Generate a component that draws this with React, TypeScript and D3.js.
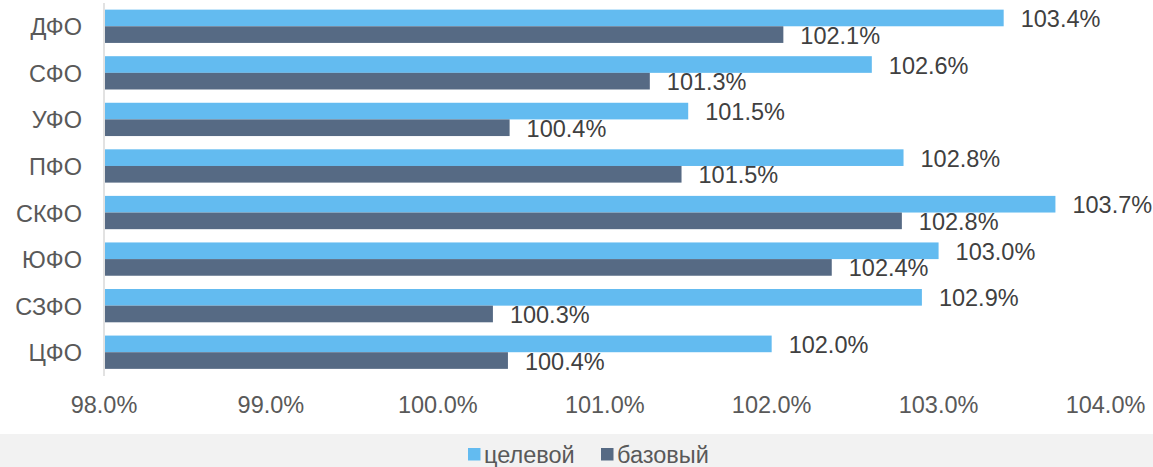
import React from "react";
import * as d3 from "d3";

const categories = ["ДФО", "СФО", "УФО", "ПФО", "СКФО", "ЮФО", "СЗФО", "ЦФО"];
const targetValues = [103.39, 102.6, 101.5, 102.79, 103.7, 103.0, 102.9, 102.0];
const baseValues = [102.07, 101.27, 100.43, 101.46, 102.78, 102.36, 100.33, 100.42];
const xTicks = [98, 99, 100, 101, 102, 103, 104];
const seriesNames = ["целевой", "базовый"];
const seriesColors = ["#63BBF0", "#566A84"];

const W = 1153;
const H = 467;
const FONT = "'Liberation Sans', Arial, sans-serif";

export default function App() {
  const x = d3.scaleLinear().domain([98, 104]).range([104, 1105.5]);
  const y = d3.scaleBand<string>().domain(categories).range([3, 375.5]).paddingInner(0.285).paddingOuter(0.1425);
  const bw = y.bandwidth() / 2;
  const fmt = (v: number) => v.toFixed(1) + "%";

  return (
    <svg width={W} height={H} style={{ position: "absolute", left: 0, top: 0 }} fontFamily={FONT}>
      <rect x={0} y={0} width={W} height={H} fill="#ffffff" />
      {categories.map((c, i) => {
        const y0 = y(c)!;
        return (
          <g key={c}>
            <rect x={x(98) + 1} y={y0} width={x(targetValues[i]) - x(98) - 1} height={bw} fill={seriesColors[0]} />
            <rect x={x(98) + 1} y={y0 + bw} width={x(baseValues[i]) - x(98) - 1} height={bw} fill={seriesColors[1]} />
            <text x={x(targetValues[i]) + 17} y={y0 + bw / 2 + 1} dominantBaseline="central" fontSize={23.5} fill="#404040">
              {fmt(targetValues[i])}
            </text>
            <text x={x(baseValues[i]) + 17} y={y0 + bw * 1.5 + 1} dominantBaseline="central" fontSize={23.5} fill="#404040">
              {fmt(baseValues[i])}
            </text>
            <text x={82} y={y0 + bw + 1} dominantBaseline="central" textAnchor="end" fontSize={23.5} fill="#595959">
              {c}
            </text>
          </g>
        );
      })}
      <line x1={x(98)} x2={x(98)} y1={3} y2={376} stroke="#d9d9d9" strokeWidth={1.5} />
      {xTicks.map((t) => (
        <text key={t} x={x(t)} y={413} textAnchor="middle" fontSize={23.5} fill="#595959">
          {fmt(t)}
        </text>
      ))}
      <rect x={0} y={434} width={W} height={H - 434} fill="#f2f2f2" />
      <rect x={468} y={448} width={12.5} height={12.5} fill={seriesColors[0]} />
      <text x={484} y={463} fontSize={23.5} fill="#595959">{seriesNames[0]}</text>
      <rect x={601} y={448} width={12.5} height={12.5} fill={seriesColors[1]} />
      <text x={617} y={463} fontSize={23.5} fill="#595959">{seriesNames[1]}</text>
    </svg>
  );
}
